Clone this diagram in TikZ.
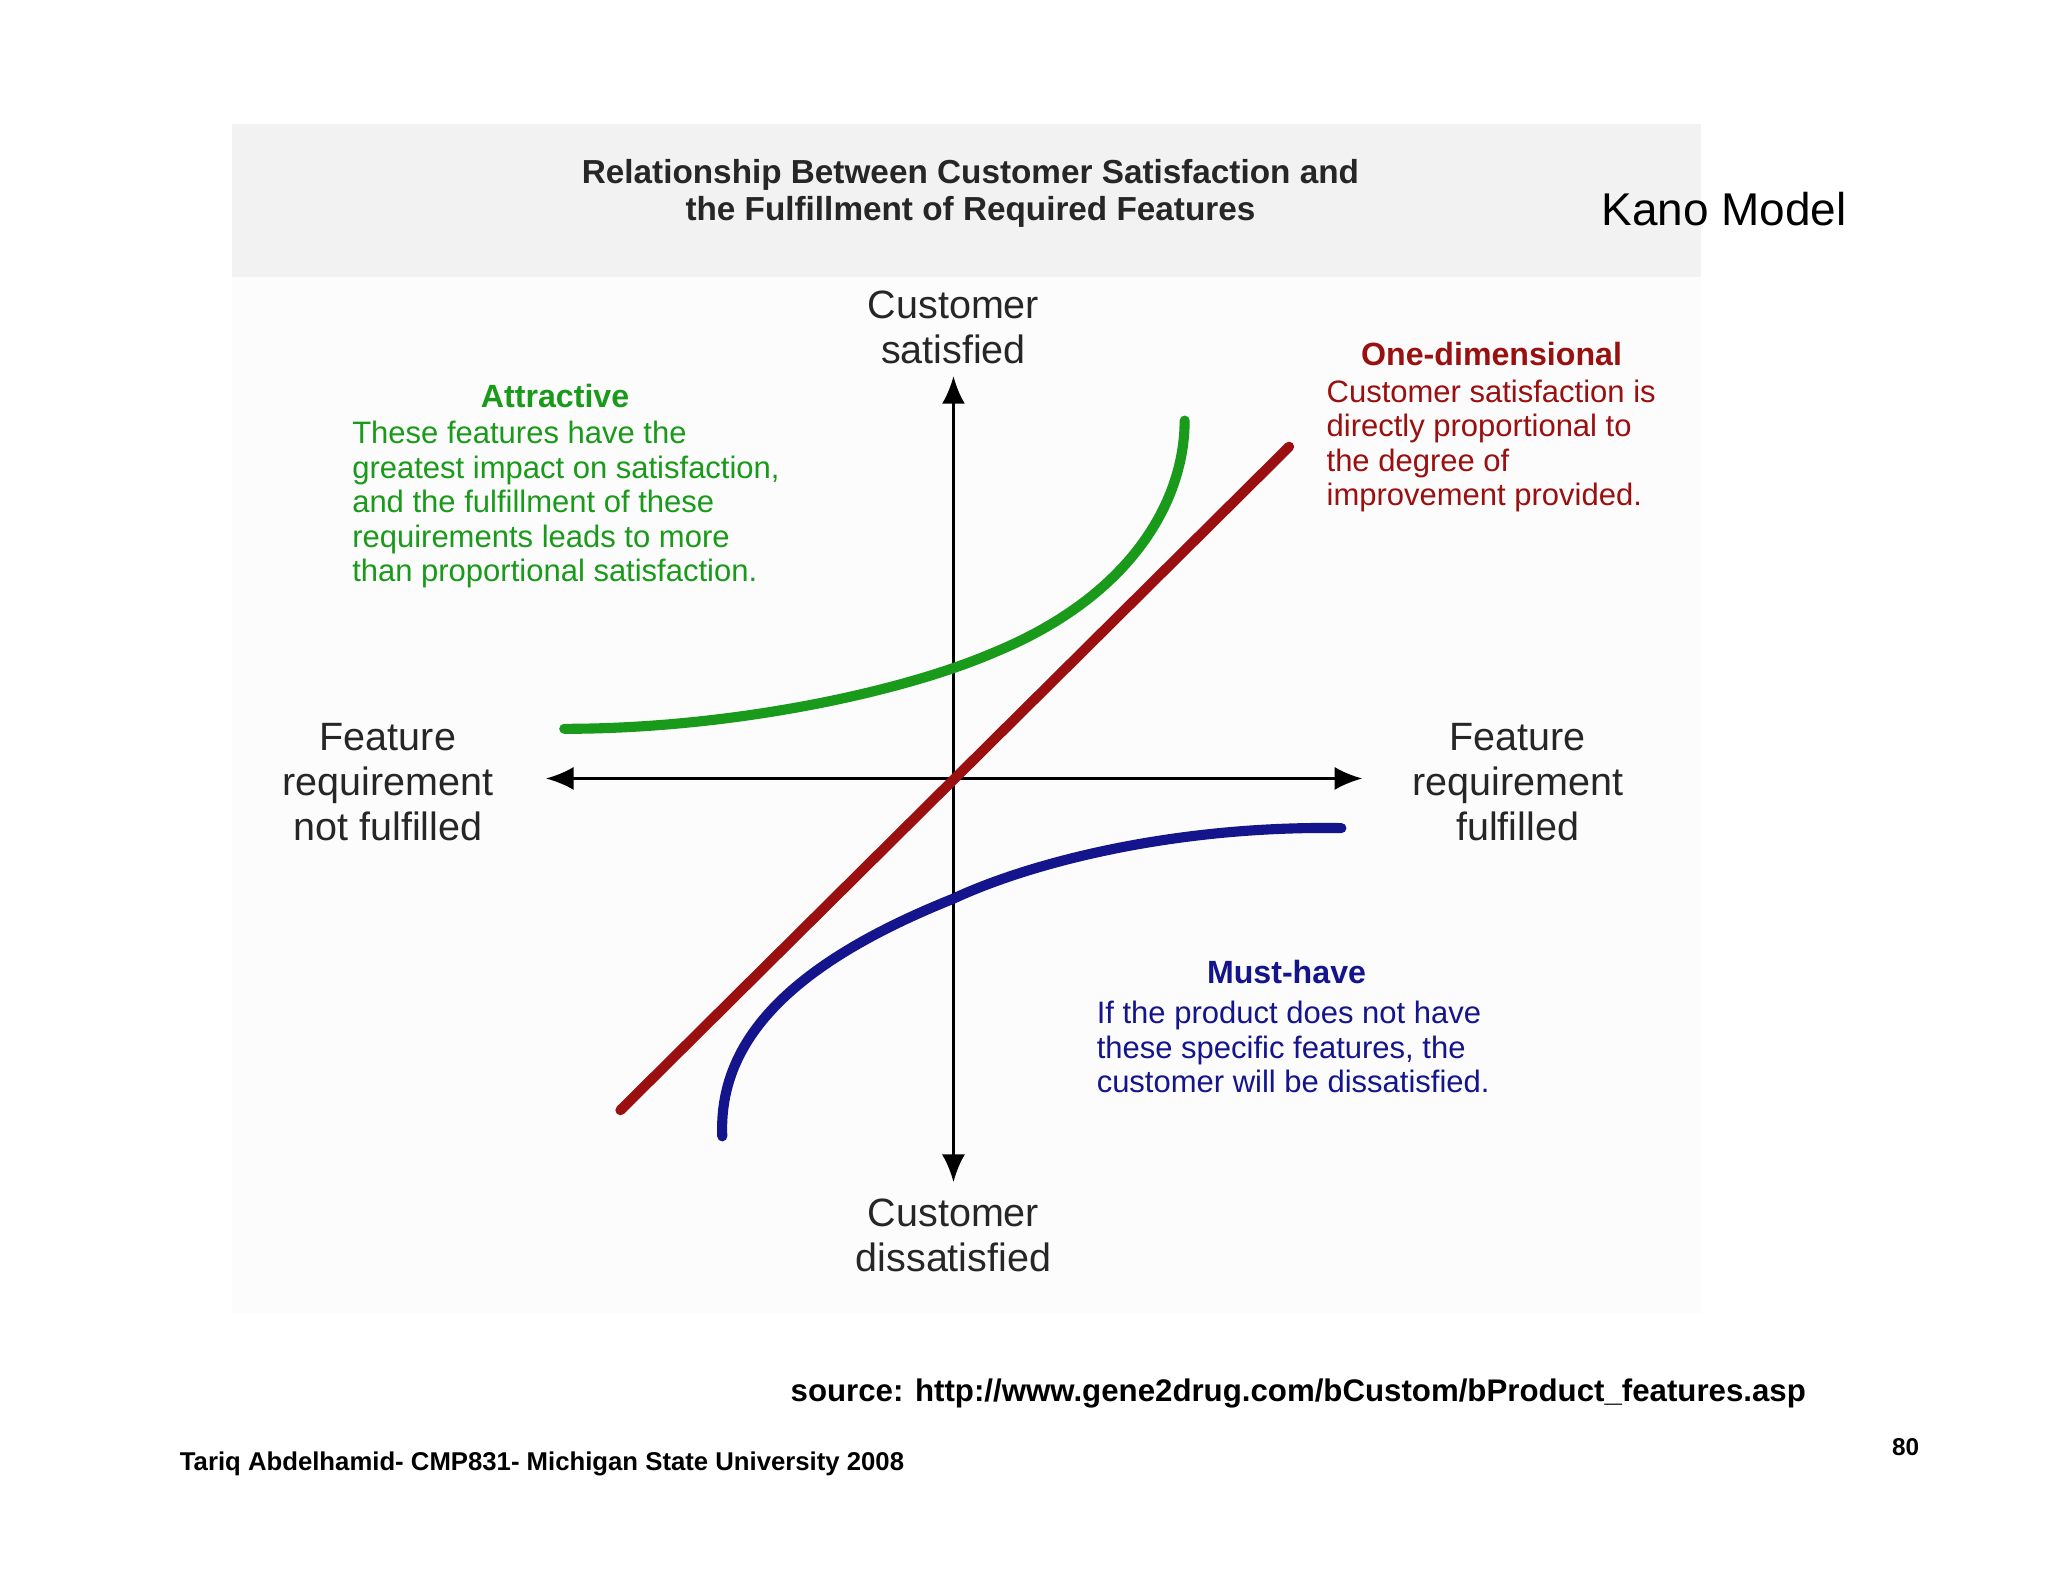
\documentclass[tikz,border=0pt]{standalone}
\usepackage{fontspec}
\setmainfont{Liberation Sans}
\usetikzlibrary{arrows.meta}
\definecolor{gr}{HTML}{1A9A1A}
\definecolor{rd}{HTML}{9A0F0F}
\definecolor{bl}{HTML}{14148C}
\tikzset{lbl/.style={align=center,font=\fontsize{8.6}{9.8}\selectfont,text=black!85},
 desc/.style={align=left,font=\fontsize{6.75}{7.5}\selectfont,anchor=north west,inner sep=0},
 head/.style={font=\bfseries\fontsize{7}{8}\selectfont,inner sep=0},
 curve/.style={line width=2.2pt,line cap=round}}
\begin{document}
\begin{tikzpicture}[x=0.01cm,y=-0.01cm]
\useasboundingbox (0,0) rectangle (1568,1211);
\fill[white] (0,0) rectangle (1568,1211);
\fill[black!1] (178,95) rectangle (1302,1005);
\fill[black!5] (178,95) rectangle (1302,212);
\node[align=center,font=\bfseries\fontsize{7.25}{8.2}\selectfont,text=black!85] (title) at (743,148) {Relationship Between Customer Satisfaction and\\the Fulfillment of Required Features};
\node[font=\fontsize{10}{12}\selectfont] (kano) at (1320,160) {Kano Model};
% axes
\coordinate (top) at (730,288); \coordinate (bot) at (730,905);
\coordinate (lft) at (418,596); \coordinate (rgt) at (1043,596);
\draw[{Latex[length=6pt,width=5pt]}-{Latex[length=6pt,width=5pt]},line width=0.6pt] (top) -- (bot);
\draw[{Latex[length=6pt,width=5pt]}-{Latex[length=6pt,width=5pt]},line width=0.6pt] (lft) -- (rgt);
\node[lbl] (cs) at (730,251) {Customer\\satisfied};
\node[lbl] (cd) at (730,946) {Customer\\dissatisfied};
\node[lbl] (fn) at (297,599) {Feature\\requirement\\not fulfilled};
\node[lbl] (ff) at (1162,599) {Feature\\requirement\\fulfilled};
% curves
\coordinate (r1) at (475,850); \coordinate (r2) at (987,342);
\draw[rd,curve] (r1) -- (r2);
\coordinate (g1) at (432,558); \coordinate (g2) at (907,322);
\draw[gr,curve] (g1) .. controls (560,558) and (690,530) .. (760,500) .. controls (870,455) and (907,380) .. (g2);
\coordinate (b1) at (1027,634); \coordinate (b2) at (553,870);
\draw[bl,curve] (b1) .. controls (900,632) and (790,660) .. (730,688) .. controls (600,740) and (550,800) .. (b2);
% texts
\node[head,text=gr] (ah) at (425,303) {Attractive};
\node[desc,text=gr] (ad) at (269,322) {These features have the\\greatest impact on satisfaction,\\and the fulfillment of these\\requirements leads to more\\than proportional satisfaction.};
\node[head,text=rd] (oh) at (1142,271) {One-dimensional};
\node[desc,text=rd] (od) at (1015,290) {Customer satisfaction is\\directly proportional to\\the degree of\\improvement provided.};
\node[head,text=bl] (mh) at (985,744) {Must-have};
\node[desc,text=bl] (md) at (839,766) {If the product does not have\\these specific features, the\\customer will be dissatisfied.};
\node[font=\bfseries\fontsize{6.8}{8}\selectfont] (src) at (994,1067) {source: http://www.gene2drug.com/bCustom/bProduct\_features.asp};
\node[font=\bfseries\fontsize{5.6}{6}\selectfont] (foot) at (415,1121) {Tariq Abdelhamid- CMP831- Michigan State University 2008};
\node[font=\bfseries\fontsize{5.3}{6}\selectfont] (pg) at (1459,1108) {80};
\end{tikzpicture}
\end{document}
